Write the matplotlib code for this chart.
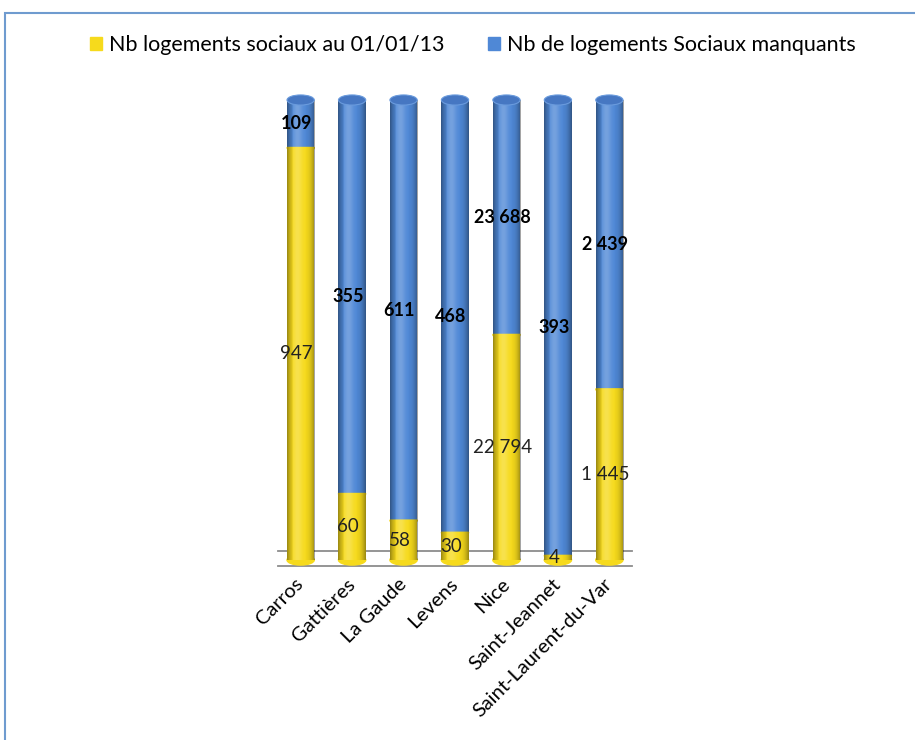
import matplotlib.pyplot as plt
import numpy as np
from matplotlib.patches import Ellipse, Polygon, Rectangle
from matplotlib.transforms import ScaledTranslation

# Data (100% stacked cylinders)
communes = ["Carros", "Gattières", "La Gaude", "Levens", "Nice",
            "Saint-Jeannet", "Saint-Laurent-du-Var"]
existants = [947, 60, 58, 30, 22794, 4, 1445]
manquants = [109, 355, 611, 468, 23688, 393, 2439]
series_names = ["Nb logements sociaux au 01/01/13",
                "Nb de logements Sociaux manquants"]

yellow = "#F6DA1C"
blue = "#4F88D6"
blue_top = "#4677C2"

plt.rcParams["font.family"] = ["Lato", "DejaVu Sans"]

fig = plt.figure(figsize=(9.15, 7.4), dpi=100)
ax = fig.add_axes([278 / 915, 1 - 560 / 740, 354 / 915, 460 / 740])

def fmt(v):
    return f"{v:,}".replace(",", " ")

x = np.arange(len(communes))
ex = np.array(existants, dtype=float)
mq = np.array(manquants, dtype=float)
pct_ex = ex / (ex + mq) * 100
pct_mq = 100 - pct_ex

w = 0.53
eh = 2.2  # ellipse height in % units

# cylinder shading profile
t = np.linspace(-1, 1, 60)
shade = 0.38 * np.abs(t) ** 3
light = 0.22 * np.exp(-((t + 0.25) / 0.35) ** 2)
img = np.zeros((1, len(t), 4))
use_light = light > shade
img[0, use_light, :3] = 1.0
img[0, :, 3] = np.where(use_light, light, shade)

for i in range(len(communes)):
    # bottom cap
    ax.add_patch(Ellipse((x[i], 0), w, eh, color=yellow, clip_on=False, zorder=1))
    ax.bar(x[i], pct_ex[i], w, color=yellow, zorder=2)
    ax.bar(x[i], pct_mq[i], w, bottom=pct_ex[i], color=blue, zorder=2)
    # curved junction (front half of ellipse)
    th = np.linspace(np.pi, 2 * np.pi, 40)
    pts = np.column_stack([x[i] + w / 2 * np.cos(th), pct_ex[i] + eh / 2 * np.sin(th)])
    ax.add_patch(Polygon(pts, closed=True, color=yellow, zorder=2.5, clip_on=False))
    ax.imshow(img, extent=(x[i] - w / 2, x[i] + w / 2, -eh / 2, 100),
              aspect="auto", zorder=3, interpolation="bilinear")
    # top cap
    ax.add_patch(Ellipse((x[i], 100), w, eh, facecolor=blue_top,
                         edgecolor="#6A9BDD", lw=0.8, clip_on=False, zorder=4))
    # labels
    ax.text(x[i] - 0.08, pct_ex[i] / 2, fmt(existants[i]), ha="center", va="center",
            fontsize=13.5, color="#222222", zorder=5, clip_on=False)
    ax.text(x[i] - 0.08, pct_ex[i] + pct_mq[i] / 2, fmt(manquants[i]), ha="center",
            va="center", fontsize=13, fontweight="bold", color="black", zorder=5)

ax.set_xlim(-0.44, 6.44)
ax.set_ylim(0, 100)
for s in ax.spines.values():
    s.set_visible(False)
ax.set_yticks([])
ax.set_xticks(x)
ax.set_xticklabels(communes, rotation=45, ha="right", rotation_mode="anchor",
                   fontsize=14.5)
ax.tick_params(axis="x", length=0, pad=11)
shift = ScaledTranslation(-6 / 100, 0, fig.dpi_scale_trans)
for lab in ax.get_xticklabels():
    lab.set_transform(lab.get_transform() + shift)

# 3D floor lines
for yy in [(560 - 551) / 4.6, (560 - 566) / 4.6]:
    ax.plot([-0.44, 6.44], [yy, yy], color="#8C8C8C", lw=1.3, zorder=0, clip_on=False)

# legend
handles = [Rectangle((0, 0), 1, 1, color=yellow), Rectangle((0, 0), 1, 1, color=blue)]
fig.legend(handles, series_names, loc="center", bbox_to_anchor=(0.517, 1 - 45 / 740),
           ncol=2, frameon=False, fontsize=15.5, handlelength=0.55, handleheight=0.55,
           handletextpad=0.35, columnspacing=2.0)

# chart area border
fig.patches.append(Rectangle((5 / 915, -0.1), 1.0, 1 - 13 / 740 + 0.1,
                             transform=fig.transFigure, fill=False,
                             edgecolor="#6F9BCF", lw=1.5))

fig.savefig("out.png", dpi=100)
